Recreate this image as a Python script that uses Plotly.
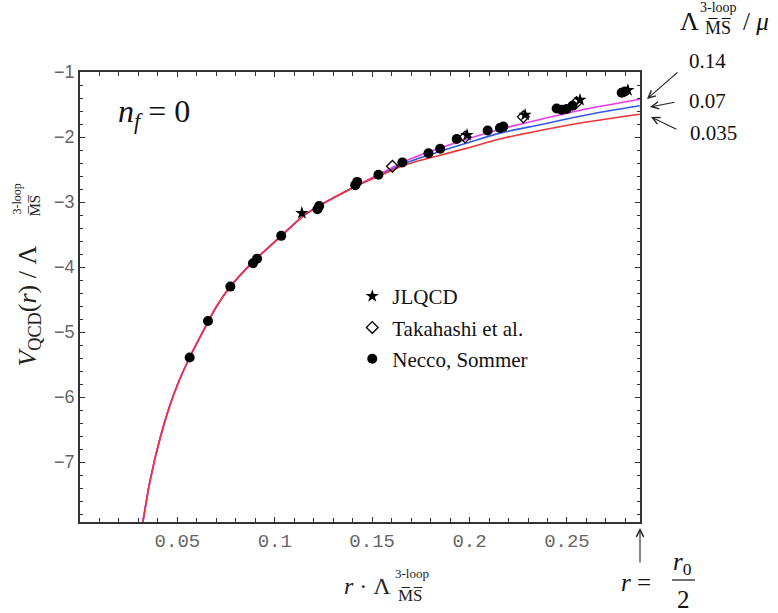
import plotly.graph_objects as go

# ---- data ----
r_common = [0.0323, 0.0360, 0.0413, 0.0460, 0.0507, 0.0563, 0.0635, 0.0700,
            0.0772, 0.0888, 0.1033, 0.1139, 0.1220, 0.1413]
v_common = [-7.92, -7.28, -6.61, -6.14, -5.76, -5.39, -4.97, -4.61,
            -4.30, -3.92, -3.52, -3.23, -3.07, -2.76]
r_tail = [0.155, 0.1678, 0.1849, 0.2000, 0.2156, 0.2362, 0.2600, 0.2874]
v_tail_014 = [-2.55, -2.36, -2.17, -2.02, -1.88, -1.73, -1.57, -1.42]
v_tail_007 = [-2.56, -2.39, -2.22, -2.08, -1.94, -1.81, -1.66, -1.52]
v_tail_0035 = [-2.58, -2.42, -2.28, -2.16, -2.03, -1.90, -1.77, -1.65]

necco_r = [0.0563, 0.0657, 0.0772, 0.0888, 0.0909, 0.1033, 0.1219, 0.1228,
           0.1413, 0.1423, 0.1532, 0.1655, 0.1789, 0.1849, 0.1934, 0.2093,
           0.2156, 0.2173, 0.2447, 0.2473, 0.2498, 0.2529, 0.2781, 0.2797]
necco_v = [-5.39, -4.83, -4.30, -3.94, -3.87, -3.52, -3.11, -3.06,
           -2.74, -2.69, -2.58, -2.39, -2.25, -2.18, -2.03, -1.90,
           -1.86, -1.84, -1.56, -1.58, -1.57, -1.52, -1.32, -1.30]
taka_r = [0.1604, 0.1977, 0.2276, 0.2549]
taka_v = [-2.45, -2.00, -1.69, -1.47]
jlqcd_r = [0.1139, 0.1987, 0.2285, 0.2567, 0.2813]
jlqcd_v = [-3.17, -1.97, -1.66, -1.43, -1.28]

x_ticks = [0.05, 0.1, 0.15, 0.2, 0.25]
x_ticklabels = ["0.05", "0.1", "0.15", "0.2", "0.25"]
y_ticks = [-7, -6, -5, -4, -3, -2, -1]
y_ticklabels = ["\u22127", "\u22126", "\u22125", "\u22124", "\u22123", "\u22122", "\u22121"]
ratio_labels = ["0.14", "0.07", "0.035"]
curve_colors = {"0.14": "#ee38ee", "0.07": "#3358ee", "0.035": "#ee3434"}

X_RANGE = [0.0, 0.2875]
Y_RANGE = [-7.92, -1.0]

SERIF = "Liberation Serif"
MONO = "Liberation Mono"
INK = "#111"

fig = go.Figure()

for key, tail in [("0.07", v_tail_007), ("0.14", v_tail_014), ("0.035", v_tail_0035)]:
    fig.add_trace(go.Scatter(
        x=r_common + r_tail, y=v_common + tail, mode="lines",
        line=dict(color=curve_colors[key], width=1.6, shape="spline", smoothing=0.8),
        showlegend=False, hoverinfo="skip"))

fig.add_trace(go.Scatter(
    x=jlqcd_r, y=jlqcd_v, mode="markers", name="JLQCD", legendgroup="a",
    marker=dict(symbol="star", size=10, color="black", line=dict(width=0))))
fig.add_trace(go.Scatter(
    x=taka_r, y=taka_v, mode="markers", name="Takahashi et al.", legendgroup="b",
    marker=dict(symbol="diamond-open", size=9, color="black", line=dict(width=1.3))))
fig.add_trace(go.Scatter(
    x=necco_r, y=necco_v, mode="markers", name="Necco, Sommer", legendgroup="c",
    marker=dict(symbol="circle", size=10, color="black", line=dict(width=0))))

axis_common = dict(showgrid=False, zeroline=False, showline=True, linecolor="#333",
                   linewidth=1.5, mirror="allticks", ticks="inside", ticklen=5,
                   tickcolor="#333", tickwidth=1)

fig.update_xaxes(range=X_RANGE, tickvals=x_ticks, ticktext=x_ticklabels,
                 tickfont=dict(family=MONO, size=19, color="#666"),
                 minor=dict(dtick=0.01, ticks="inside", ticklen=4, tickcolor="#333"),
                 **axis_common)
fig.update_yaxes(range=Y_RANGE, tickvals=y_ticks, ticktext=y_ticklabels,
                 tickfont=dict(family="Liberation Sans", size=18, color="#666"),
                 minor=dict(tickvals=[-1 - 0.2 * k for k in range(1, 35)], ticks="inside",
                            ticklen=3, tickcolor="#333"),
                 **axis_common)

W, H = 778, 613
L, R, T, B = 79.5, 138, 72, 91
pw, ph = W - L - R, H - T - B


def px(x):
    return (x - L) / pw


def py(y):
    return (H - B - y) / ph


annos = []


def txt(x, y, text, size, angle=0, color=INK, family=SERIF):
    annos.append(dict(xref="paper", yref="paper", x=px(x), y=py(y), showarrow=False,
                      xanchor="center", yanchor="middle", textangle=angle,
                      font=dict(family=family, size=size, color=color), text=text))


def arrow(hx, hy, tx, ty):
    annos.append(dict(xref="paper", yref="paper", x=px(hx), y=py(hy), showarrow=True,
                      axref="pixel", ayref="pixel", ax=tx - hx, ay=ty - hy,
                      xanchor="center", yanchor="middle",
                      arrowhead=5, arrowsize=1.3, arrowwidth=1.1, arrowcolor="#222", text=""))


MS = "M\u0305S\u0305"
# y-axis title (rotated, with stacked 3-loop / MS)
txt(28, 306, "<i>V</i><sub>QCD</sub>(<i>r</i>) / \u039b", 26, angle=-90, color="#222")
txt(16, 199, "3-loop", 12, angle=-90, color="#222")
txt(34, 206, MS, 15, angle=-90, color="#222")
# x-axis title
txt(367, 586, "<i>r</i> \u00b7 \u039b", 24, color="#222")
txt(412, 573, "3-loop", 13, color="#222")
txt(410, 595, MS, 17, color="#222")
# n_f = 0
txt(154, 113, "<i>n<sub>f</sub></i> = 0", 32)
# ratio header
txt(690, 22, "\u039b", 26)
txt(719, 8, "3-loop", 14)
txt(718, 28, MS, 18)
txt(756, 22, "/ <i>\u03bc</i>", 25)
# ratio labels with arrows
label_pos = [(708, 61), (708, 101), (714, 133)]
heads = [(647, 99), (650, 107), (651, 117)]
tails_px = [(679, 71), (676, 102), (678, 130)]
for lab, (lx, ly), (hx, hy), (tx, ty) in zip(ratio_labels, label_pos, heads, tails_px):
    txt(lx, ly, lab, 21)
    arrow(hx, hy, tx, ty)
# r = r0/2
arrow(640, 528, 640, 564)
txt(636, 582, "<i>r</i> =", 25)
txt(683, 563, "<i>r</i><sub>0</sub>", 25)
txt(684, 599, "2", 25)

shapes = [dict(type="line", xref="paper", yref="paper", x0=px(672), x1=px(695),
               y0=py(580), y1=py(580), line=dict(color=INK, width=1.2))]

fig.update_layout(
    width=W, height=H, margin=dict(l=L, r=R, t=T, b=B, pad=0),
    paper_bgcolor="white", plot_bgcolor="white",
    annotations=annos, shapes=shapes,
    legend=dict(x=px(352), y=py(276), xanchor="left", yanchor="top",
                font=dict(family=SERIF, size=21, color=INK),
                bgcolor="rgba(0,0,0,0)", tracegroupgap=1, itemwidth=30),
    showlegend=True,
)

fig.write_html("out.html", config={"displayModeBar": False},
               post_script="document.body.style.margin='0px';document.body.style.overflow='hidden';")
